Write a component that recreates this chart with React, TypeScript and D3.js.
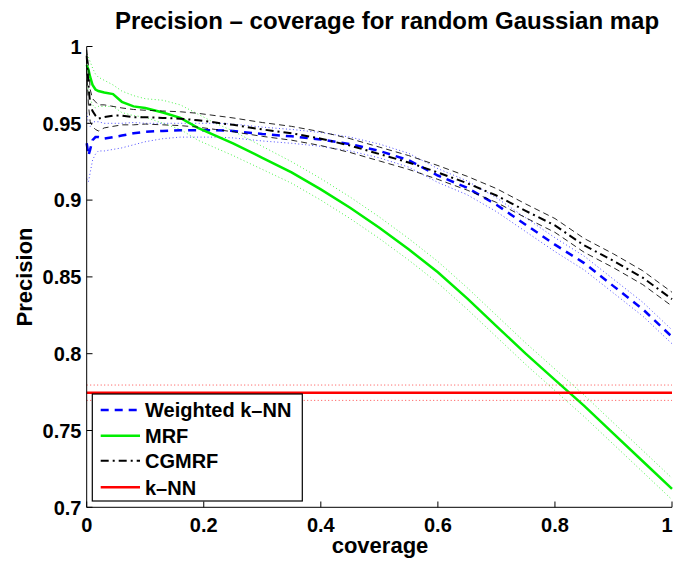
import React from "react";
import * as d3 from "d3";

const coverage = [0, 0.003, 0.006, 0.01, 0.015, 0.02, 0.03, 0.045, 0.06, 0.08, 0.1, 0.13, 0.16, 0.19, 0.22, 0.25, 0.3, 0.35, 0.4, 0.45, 0.5, 0.55, 0.6, 0.65, 0.7, 0.75, 0.8, 0.85, 0.9, 0.95, 1.0];

const weightedKnn = [0.937, 0.929, 0.933, 0.939, 0.941, 0.941, 0.940, 0.941, 0.942, 0.9435, 0.9445, 0.945, 0.9455, 0.9455, 0.9455, 0.945, 0.943, 0.9415, 0.9395, 0.9365, 0.932, 0.926, 0.916, 0.908, 0.897, 0.884, 0.871, 0.859, 0.844, 0.829, 0.811];
const weightedKnnUpper = [0.957, 0.950, 0.948, 0.951, 0.951, 0.951, 0.950, 0.950, 0.950, 0.9505, 0.950, 0.950, 0.950, 0.950, 0.950, 0.9495, 0.9475, 0.946, 0.944, 0.941, 0.9365, 0.9305, 0.9205, 0.9125, 0.9015, 0.8885, 0.8755, 0.8635, 0.8485, 0.8335, 0.8155];
const weightedKnnLower = [0.914, 0.912, 0.918, 0.926, 0.930, 0.932, 0.932, 0.933, 0.934, 0.936, 0.938, 0.940, 0.941, 0.941, 0.941, 0.9405, 0.9385, 0.937, 0.935, 0.932, 0.9275, 0.9215, 0.9115, 0.9035, 0.8925, 0.8795, 0.8665, 0.8545, 0.8395, 0.8245, 0.8065];

const mrf = [0.988, 0.985, 0.980, 0.975, 0.972, 0.971, 0.970, 0.969, 0.964, 0.961, 0.960, 0.957, 0.9535, 0.947, 0.942, 0.937, 0.9275, 0.918, 0.907, 0.895, 0.882, 0.868, 0.853, 0.836, 0.818, 0.800, 0.783, 0.766, 0.748, 0.730, 0.712];
const mrfUpper = [0.995, 0.993, 0.990, 0.986, 0.982, 0.980, 0.978, 0.975, 0.971, 0.968, 0.966, 0.965, 0.962, 0.956, 0.950, 0.945, 0.935, 0.925, 0.914, 0.902, 0.889, 0.875, 0.860, 0.843, 0.825, 0.807, 0.790, 0.773, 0.755, 0.737, 0.719];
const mrfLower = [0.975, 0.972, 0.966, 0.962, 0.960, 0.961, 0.961, 0.961, 0.957, 0.955, 0.954, 0.950, 0.946, 0.939, 0.934, 0.929, 0.920, 0.911, 0.900, 0.888, 0.875, 0.861, 0.846, 0.829, 0.811, 0.793, 0.776, 0.759, 0.741, 0.723, 0.705];

const cgmrf = [0.994, 0.975, 0.962, 0.958, 0.955, 0.953, 0.954, 0.955, 0.955, 0.954, 0.954, 0.9535, 0.953, 0.952, 0.9505, 0.949, 0.946, 0.9435, 0.940, 0.9355, 0.930, 0.9245, 0.918, 0.911, 0.903, 0.893, 0.8835, 0.8705, 0.8605, 0.8495, 0.8355];
const cgmrfUpper = [0.998, 0.988, 0.972, 0.966, 0.964, 0.962, 0.962, 0.961, 0.960, 0.959, 0.9585, 0.958, 0.9575, 0.9565, 0.955, 0.9535, 0.9505, 0.948, 0.9445, 0.940, 0.9345, 0.929, 0.9225, 0.9155, 0.9075, 0.8975, 0.888, 0.875, 0.865, 0.854, 0.840];
const cgmrfLower = [0.985, 0.962, 0.951, 0.948, 0.946, 0.945, 0.947, 0.948, 0.949, 0.949, 0.9495, 0.949, 0.9485, 0.9475, 0.946, 0.9445, 0.9415, 0.939, 0.9355, 0.931, 0.9255, 0.920, 0.9135, 0.9065, 0.8985, 0.8885, 0.879, 0.866, 0.856, 0.845, 0.831];

const knnCoverage = [0, 1];
const knn = [0.7746, 0.7746];
const knnUpper = [0.7796, 0.7796];
const knnLower = [0.7696, 0.7696];

const xTicks = [0, 0.2, 0.4, 0.6, 0.8, 1];
const xTickLabels = ["0", "0.2", "0.4", "0.6", "0.8", "1"];
const yTicks = [0.7, 0.75, 0.8, 0.85, 0.9, 0.95, 1];
const yTickLabels = ["0.7", "0.75", "0.8", "0.85", "0.9", "0.95", "1"];

const legendLabels = ["Weighted k\u2013NN", "MRF", "CGMRF", "k\u2013NN"];

const FONT = "'Liberation Sans', Arial, Helvetica, sans-serif";

export default function App() {
  const W = 675, H = 561;
  const x = d3.scaleLinear().domain([0, 1]).range([86.7, 672]);
  const y = d3.scaleLinear().domain([0.7, 1]).range([507.3, 46.5]);

  const mk = (xs: number[], ys: number[]) =>
    d3.line<number>().x((_, i) => x(xs[i])).y((d) => y(d))(ys) || "";

  const series = [
    { name: legendLabels[0], xs: coverage, c: weightedKnn, u: weightedKnnUpper, l: weightedKnnLower, color: "#0000ff", dash: "8,6", w: 2.5, bdash: "1,2.5", bop: 0.7 },
    { name: legendLabels[1], xs: coverage, c: mrf, u: mrfUpper, l: mrfLower, color: "#00ee00", dash: "", w: 2.5, bdash: "1,2.5", bop: 0.7 },
    { name: legendLabels[2], xs: coverage, c: cgmrf, u: cgmrfUpper, l: cgmrfLower, color: "#000000", dash: "8,4,2,4", w: 2, bdash: "6,4", bop: 0.85 },
    { name: legendLabels[3], xs: knnCoverage, c: knn, u: knnUpper, l: knnLower, color: "#ff0000", dash: "", w: 2.5, bdash: "1,2.5", bop: 0.7 },
  ];

  const legX = 92.3, legY = 394, legW = 210, legH = 107;
  const rowY = [410, 435.7, 460.7, 487.3];

  return (
    <div>
      <style>{`body{margin:0;background:#fff}`}</style>
      <svg width={W} height={H} style={{ display: "block", background: "#fff" }} fontFamily={FONT}>
        <text x={387} y={29} textAnchor="middle" fontSize={24} fontWeight="bold">Precision – coverage for random Gaussian map</text>

        {series.map((s, i) => (
          <g key={i}>
            <path d={mk(s.xs, s.u)} fill="none" stroke={s.color} strokeOpacity={s.bop} strokeWidth={1} strokeDasharray={s.bdash} />
            <path d={mk(s.xs, s.l)} fill="none" stroke={s.color} strokeOpacity={s.bop} strokeWidth={1} strokeDasharray={s.bdash} />
            <path d={mk(s.xs, s.c)} fill="none" stroke={s.color} strokeWidth={s.w} strokeDasharray={s.dash || undefined} />
          </g>
        ))}

        {/* axes */}
        <line x1={86.7} x2={86.7} y1={46.5} y2={507.3} stroke="#000" strokeWidth={1} />
        <line x1={86.7} x2={672} y1={507.3} y2={507.3} stroke="#000" strokeWidth={1} />
        {yTicks.map((t, i) => (
          <g key={"y" + i}>
            <line x1={86.7} x2={92.5} y1={y(t)} y2={y(t)} stroke="#000" />
            <text x={81.5} y={y(t) + 7.2} textAnchor="end" fontSize={20} fontWeight="bold">{yTickLabels[i]}</text>
          </g>
        ))}
        {xTicks.map((t, i) => (
          <g key={"x" + i}>
            <line x1={x(t)} x2={x(t)} y1={507.3} y2={501.5} stroke="#000" />
            <text x={Math.min(x(t), 667)} y={531.5} textAnchor="middle" fontSize={20} fontWeight="bold">{xTickLabels[i]}</text>
          </g>
        ))}
        <text x={380} y={553} textAnchor="middle" fontSize={22} fontWeight="bold">coverage</text>
        <text transform={`translate(32,277) rotate(-90)`} textAnchor="middle" fontSize={22} fontWeight="bold">Precision</text>

        {/* legend */}
        <rect x={legX} y={legY} width={legW} height={legH} fill="#fff" stroke="#000" strokeWidth={1.2} />
        {series.map((s, i) => (
          <g key={"l" + i}>
            <line x1={100.7} x2={140} y1={rowY[i]} y2={rowY[i]} stroke={s.color} strokeWidth={s.w} strokeDasharray={s.dash || undefined} />
            <text x={145} y={rowY[i] + 7.2} fontSize={20} fontWeight="bold">{s.name}</text>
          </g>
        ))}
      </svg>
    </div>
  );
}
